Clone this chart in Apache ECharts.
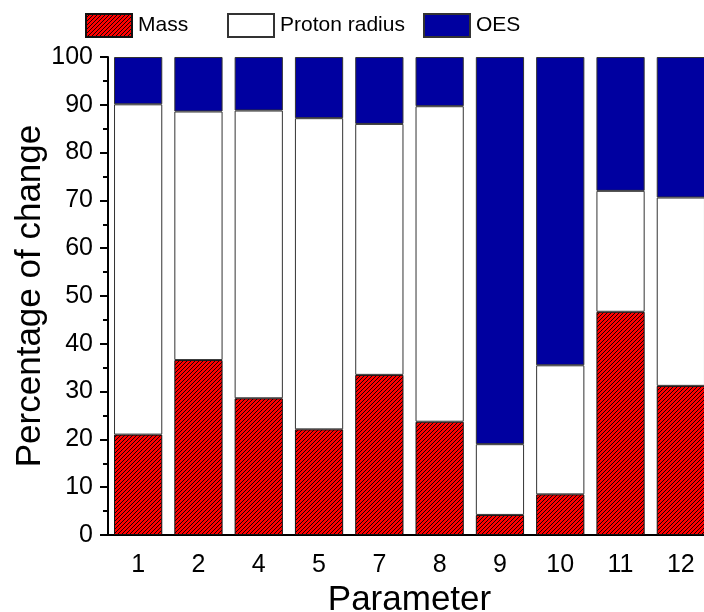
<!DOCTYPE html>
<html>
<head>
<meta charset="utf-8">
<script src="https://cdn.jsdelivr.net/npm/echarts@6/dist/echarts.min.js"></script>
<style>html,body{margin:0;padding:0;background:#fff}#c{width:704px;height:612px}</style>
</head>
<body>
<div id="c"></div>
<script>
const categories = ['1','2','4','5','7','8','9','10','11','12'];
const mass   = [21.0, 36.6, 28.6, 22.1, 33.5, 23.7, 4.2, 8.5, 46.7, 31.2];
const proton = [69.1, 52.0, 60.2, 65.1, 52.5, 66.0, 14.8, 27.0, 25.3, 39.4];
const oes    = [9.9, 11.4, 11.2, 12.8, 14.0, 10.3, 81.0, 64.5, 28.0, 29.4];
const yTicks = [0,10,20,30,40,50,60,70,80,90,100];

function hatch() {
  const c = document.createElement('canvas');
  c.width = 4; c.height = 4;
  const g = c.getContext('2d');
  g.fillStyle = '#ff0000';
  g.fillRect(0,0,4,4);
  g.strokeStyle = '#1a0000';
  g.lineWidth = 1;
  g.beginPath();
  g.moveTo(-1,5); g.lineTo(5,-1);
  g.moveTo(-1,1); g.lineTo(1,-1);
  g.moveTo(3,5); g.lineTo(5,3);
  g.stroke();
  return c;
}

const chart = echarts.init(document.getElementById('c'), null, {renderer:'canvas'});
const font = 'Liberation Sans, Arial, sans-serif';
const legendBase = {top: 13, padding: 0, itemWidth: 46, itemHeight: 23, icon: 'rect', itemGap: 0,
  textStyle: {fontFamily: font, fontSize: 21, color: '#000', padding:[0,0,0,1]}};
chart.setOption({
  animation: false,
  legend: [
    Object.assign({}, legendBase, {data: ['Mass'], left: 85}),
    Object.assign({}, legendBase, {data: ['Proton radius'], left: 227}),
    Object.assign({}, legendBase, {data: ['OES'], left: 423})
  ],
  grid: {left: 108, top: 57, height: 478, width: 603, containLabel: false, outerBoundsMode: 'none'},
  xAxis: {
    type: 'category', data: categories,
    name: 'Parameter', nameLocation: 'middle', nameGap: 48, nameMoveOverlap: false,
    nameTextStyle: {fontFamily: font, fontSize: 35, color: '#000'},
    axisLine: {lineStyle: {color: '#000', width: 2}},
    axisTick: {alignWithLabel: true, length: 8, lineStyle: {width: 2, color: '#000'}},
    axisLabel: {fontFamily: font, fontSize: 25, color: '#000', margin: 18}
  },
  yAxis: {
    type: 'value', min: yTicks[0], max: yTicks[yTicks.length-1], interval: 10,
    name: 'Percentage of change', nameLocation: 'middle', nameGap: 60, nameMoveOverlap: false,
    nameTextStyle: {fontFamily: font, fontSize: 35, color: '#000'},
    axisLine: {show: true, lineStyle: {color: '#000', width: 2}},
    axisTick: {show: true, length: 8, lineStyle: {width: 2, color: '#000'}},
    minorTick: {show: true, splitNumber: 2, length: 5, lineStyle: {width: 2, color: '#000'}},
    splitLine: {show: false},
    axisLabel: {fontFamily: font, fontSize: 25, color: '#000', margin: 15}
  },
  series: [
    {name: 'Mass', type: 'bar', stack: 's', data: mass, barCategoryGap: '20%',
     itemStyle: {color: {image: hatch(), repeat: 'repeat'}, borderColor: '#111', borderWidth: 1}},
    {name: 'Proton radius', type: 'bar', stack: 's', data: proton,
     itemStyle: {color: '#ffffff', borderColor: '#333', borderWidth: 1}},
    {name: 'OES', type: 'bar', stack: 's', data: oes,
     itemStyle: {color: '#0000a0', borderColor: '#333', borderWidth: 1}}
  ]
});
</script>
</body>
</html>
